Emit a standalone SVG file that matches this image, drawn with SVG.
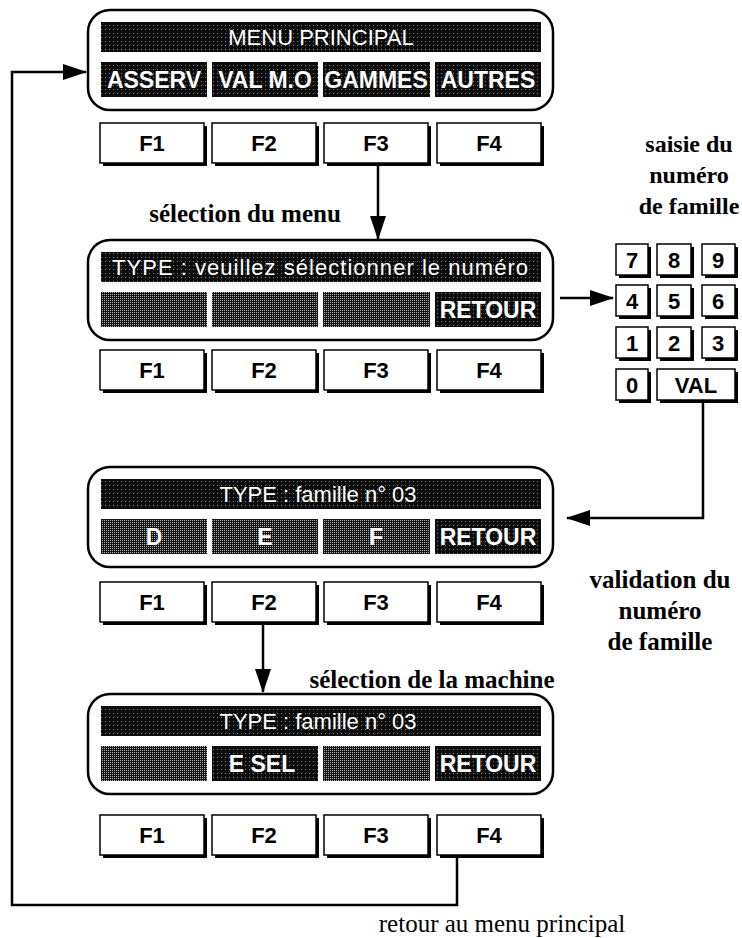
<svg xmlns="http://www.w3.org/2000/svg" width="742" height="938" viewBox="0 0 742 938">
<defs>
<pattern id="dk" width="4" height="4" patternUnits="userSpaceOnUse"><rect width="4" height="4" fill="#0c0c0c"/><rect x="1" y="1" width="1" height="1" fill="#8a8a8a"/></pattern>
<pattern id="md" width="2" height="2" patternUnits="userSpaceOnUse"><rect width="2" height="2" fill="#151515"/><rect width="1" height="1" fill="#b0b0b0"/></pattern>
<marker id="ah" markerUnits="userSpaceOnUse" markerWidth="24" markerHeight="16" refX="23" refY="8" orient="auto"><path d="M0,0 L24,8 L0,16 z" fill="#000"/></marker>
</defs>
<style>
.pan{fill:#fff;stroke:#000;stroke-width:2.5}
.dk{fill:url(#dk)}
.md{fill:url(#md)}
.lt{font-family:"Liberation Sans",Arial,sans-serif;fill:#fff;text-anchor:middle}
.tt{font-size:22px}
.bt{font-size:23px;font-weight:bold}
.key{fill:#fff;stroke:#000;stroke-width:1.5}
.sh{fill:#000}
.kl{font-family:"Liberation Sans",Arial,sans-serif;font-size:22px;font-weight:bold;fill:#000;text-anchor:middle}
.sf{font-family:"Liberation Serif","Times New Roman",serif;font-size:25px;fill:#000;text-anchor:middle}
.sb{font-weight:bold}
.kh{font-size:24px}
.cn{fill:none;stroke:#000;stroke-width:2.5}
</style>

<g id="panel1">
<rect class="pan" x="88" y="10" width="465" height="100" rx="22"/>
<rect class="dk" x="101" y="22" width="440" height="30"/>
<text class="lt tt" x="321" y="45">MENU PRINCIPAL</text>
<rect class="dk" x="101" y="62" width="106" height="35"/>
<rect class="dk" x="212" y="62" width="106" height="35"/>
<rect class="dk" x="323" y="62" width="107" height="35"/>
<rect class="dk" x="435" y="62" width="106" height="35"/>
<text class="lt bt" x="154" y="88">ASSERV</text>
<text class="lt bt" x="265" y="88">VAL M.O</text>
<text class="lt bt" x="376" y="88">GAMMES</text>
<text class="lt bt" x="488" y="88">AUTRES</text>
</g>
<g id="fkeys1">
<rect class="sh" x="103" y="126" width="104" height="40"/><rect class="key" x="100" y="123" width="104" height="40"/><text class="kl" x="152" y="151">F1</text>
<rect class="sh" x="215" y="126" width="104" height="40"/><rect class="key" x="212" y="123" width="104" height="40"/><text class="kl" x="264" y="151">F2</text>
<rect class="sh" x="327" y="126" width="104" height="40"/><rect class="key" x="324" y="123" width="104" height="40"/><text class="kl" x="376" y="151">F3</text>
<rect class="sh" x="440" y="126" width="104" height="40"/><rect class="key" x="437" y="123" width="104" height="40"/><text class="kl" x="489" y="151">F4</text>
</g>

<g id="panel2">
<rect class="pan" x="88" y="240" width="465" height="100" rx="22"/>
<rect class="dk" x="101" y="252" width="440" height="30"/>
<text class="lt tt" x="320" y="275" textLength="416" lengthAdjust="spacing">TYPE : veuillez sélectionner le numéro</text>
<rect class="md" x="101" y="292" width="106" height="35"/>
<rect class="md" x="212" y="292" width="106" height="35"/>
<rect class="md" x="323" y="292" width="107" height="35"/>
<rect class="dk" x="435" y="292" width="106" height="35"/>
<text class="lt bt" x="488" y="318">RETOUR</text>
</g>
<g id="fkeys2">
<rect class="sh" x="103" y="353" width="104" height="40"/><rect class="key" x="100" y="350" width="104" height="40"/><text class="kl" x="152" y="378">F1</text>
<rect class="sh" x="215" y="353" width="104" height="40"/><rect class="key" x="212" y="350" width="104" height="40"/><text class="kl" x="264" y="378">F2</text>
<rect class="sh" x="327" y="353" width="104" height="40"/><rect class="key" x="324" y="350" width="104" height="40"/><text class="kl" x="376" y="378">F3</text>
<rect class="sh" x="440" y="353" width="104" height="40"/><rect class="key" x="437" y="350" width="104" height="40"/><text class="kl" x="489" y="378">F4</text>
</g>

<g id="keypad">
<rect class="sh" x="619" y="247" width="32" height="31"/><rect class="key" x="616" y="244" width="32" height="31"/><text class="kl" x="632" y="268">7</text>
<rect class="sh" x="660" y="247" width="34" height="31"/><rect class="key" x="657" y="244" width="34" height="31"/><text class="kl" x="674" y="268">8</text>
<rect class="sh" x="705" y="247" width="33" height="31"/><rect class="key" x="702" y="244" width="33" height="31"/><text class="kl" x="718" y="268">9</text>
<rect class="sh" x="619" y="288" width="32" height="31"/><rect class="key" x="616" y="285" width="32" height="31"/><text class="kl" x="632" y="309">4</text>
<rect class="sh" x="660" y="288" width="34" height="31"/><rect class="key" x="657" y="285" width="34" height="31"/><text class="kl" x="674" y="309">5</text>
<rect class="sh" x="705" y="288" width="33" height="31"/><rect class="key" x="702" y="285" width="33" height="31"/><text class="kl" x="718" y="309">6</text>
<rect class="sh" x="619" y="330" width="32" height="31"/><rect class="key" x="616" y="327" width="32" height="31"/><text class="kl" x="632" y="351">1</text>
<rect class="sh" x="660" y="330" width="34" height="31"/><rect class="key" x="657" y="327" width="34" height="31"/><text class="kl" x="674" y="351">2</text>
<rect class="sh" x="705" y="330" width="33" height="31"/><rect class="key" x="702" y="327" width="33" height="31"/><text class="kl" x="718" y="351">3</text>
<rect class="sh" x="619" y="372" width="32" height="31"/><rect class="key" x="616" y="369" width="32" height="31"/><text class="kl" x="632" y="393">0</text>
<rect class="sh" x="660" y="372" width="78" height="31"/><rect class="key" x="657" y="369" width="78" height="31"/><text class="kl" x="696" y="393">VAL</text>
</g>

<g id="panel3">
<rect class="pan" x="88" y="467" width="465" height="100" rx="22"/>
<rect class="dk" x="101" y="479" width="440" height="30"/>
<text class="lt tt" x="318" y="502">TYPE : famille n° 03</text>
<rect class="md" x="101" y="519" width="106" height="35"/>
<rect class="md" x="212" y="519" width="106" height="35"/>
<rect class="md" x="323" y="519" width="107" height="35"/>
<rect class="dk" x="435" y="519" width="106" height="35"/>
<text class="lt bt" x="154" y="545">D</text>
<text class="lt bt" x="265" y="545">E</text>
<text class="lt bt" x="376" y="545">F</text>
<text class="lt bt" x="488" y="545">RETOUR</text>
</g>
<g id="fkeys3">
<rect class="sh" x="103" y="585" width="104" height="40"/><rect class="key" x="100" y="582" width="104" height="40"/><text class="kl" x="152" y="610">F1</text>
<rect class="sh" x="215" y="585" width="104" height="40"/><rect class="key" x="212" y="582" width="104" height="40"/><text class="kl" x="264" y="610">F2</text>
<rect class="sh" x="327" y="585" width="104" height="40"/><rect class="key" x="324" y="582" width="104" height="40"/><text class="kl" x="376" y="610">F3</text>
<rect class="sh" x="440" y="585" width="104" height="40"/><rect class="key" x="437" y="582" width="104" height="40"/><text class="kl" x="489" y="610">F4</text>
</g>

<g id="panel4">
<rect class="pan" x="88" y="694" width="465" height="100" rx="22"/>
<rect class="dk" x="101" y="706" width="440" height="30"/>
<text class="lt tt" x="318" y="729">TYPE : famille n° 03</text>
<rect class="md" x="101" y="746" width="106" height="35"/>
<rect class="dk" x="212" y="746" width="106" height="35"/>
<rect class="md" x="323" y="746" width="107" height="35"/>
<rect class="dk" x="435" y="746" width="106" height="35"/>
<text class="lt bt" x="262" y="772">E  SEL</text>
<text class="lt bt" x="488" y="772">RETOUR</text>
</g>
<g id="fkeys4">
<rect class="sh" x="103" y="818" width="104" height="40"/><rect class="key" x="100" y="815" width="104" height="40"/><text class="kl" x="152" y="843">F1</text>
<rect class="sh" x="215" y="818" width="104" height="40"/><rect class="key" x="212" y="815" width="104" height="40"/><text class="kl" x="264" y="843">F2</text>
<rect class="sh" x="327" y="818" width="104" height="40"/><rect class="key" x="324" y="815" width="104" height="40"/><text class="kl" x="376" y="843">F3</text>
<rect class="sh" x="440" y="818" width="104" height="40"/><rect class="key" x="437" y="815" width="104" height="40"/><text class="kl" x="489" y="843">F4</text>
</g>

<g id="connectors">
<path class="cn" d="M378,166 V239" marker-end="url(#ah)"/>
<path class="cn" d="M560,298 H613" marker-end="url(#ah)"/>
<path class="cn" d="M703,403 V518 H567" marker-end="url(#ah)"/>
<path class="cn" d="M263,625 V692" marker-end="url(#ah)"/>
<path class="cn" d="M457,858 V905 H12 V72 H86" marker-end="url(#ah)"/>
</g>

<g id="labels">
<text class="sf sb" x="245" y="222">sélection du menu</text>
<text class="sf sb kh" x="689" y="152">saisie du</text>
<text class="sf sb kh" x="689" y="183">numéro</text>
<text class="sf sb kh" x="689" y="214">de famille</text>
<text class="sf sb" x="660" y="588">validation du</text>
<text class="sf sb" x="660" y="619">numéro</text>
<text class="sf sb" x="660" y="650">de famille</text>
<text class="sf sb" x="432" y="688">sélection de la machine</text>
<text class="sf" x="502" y="932">retour au menu principal</text>
</g>
</svg>
